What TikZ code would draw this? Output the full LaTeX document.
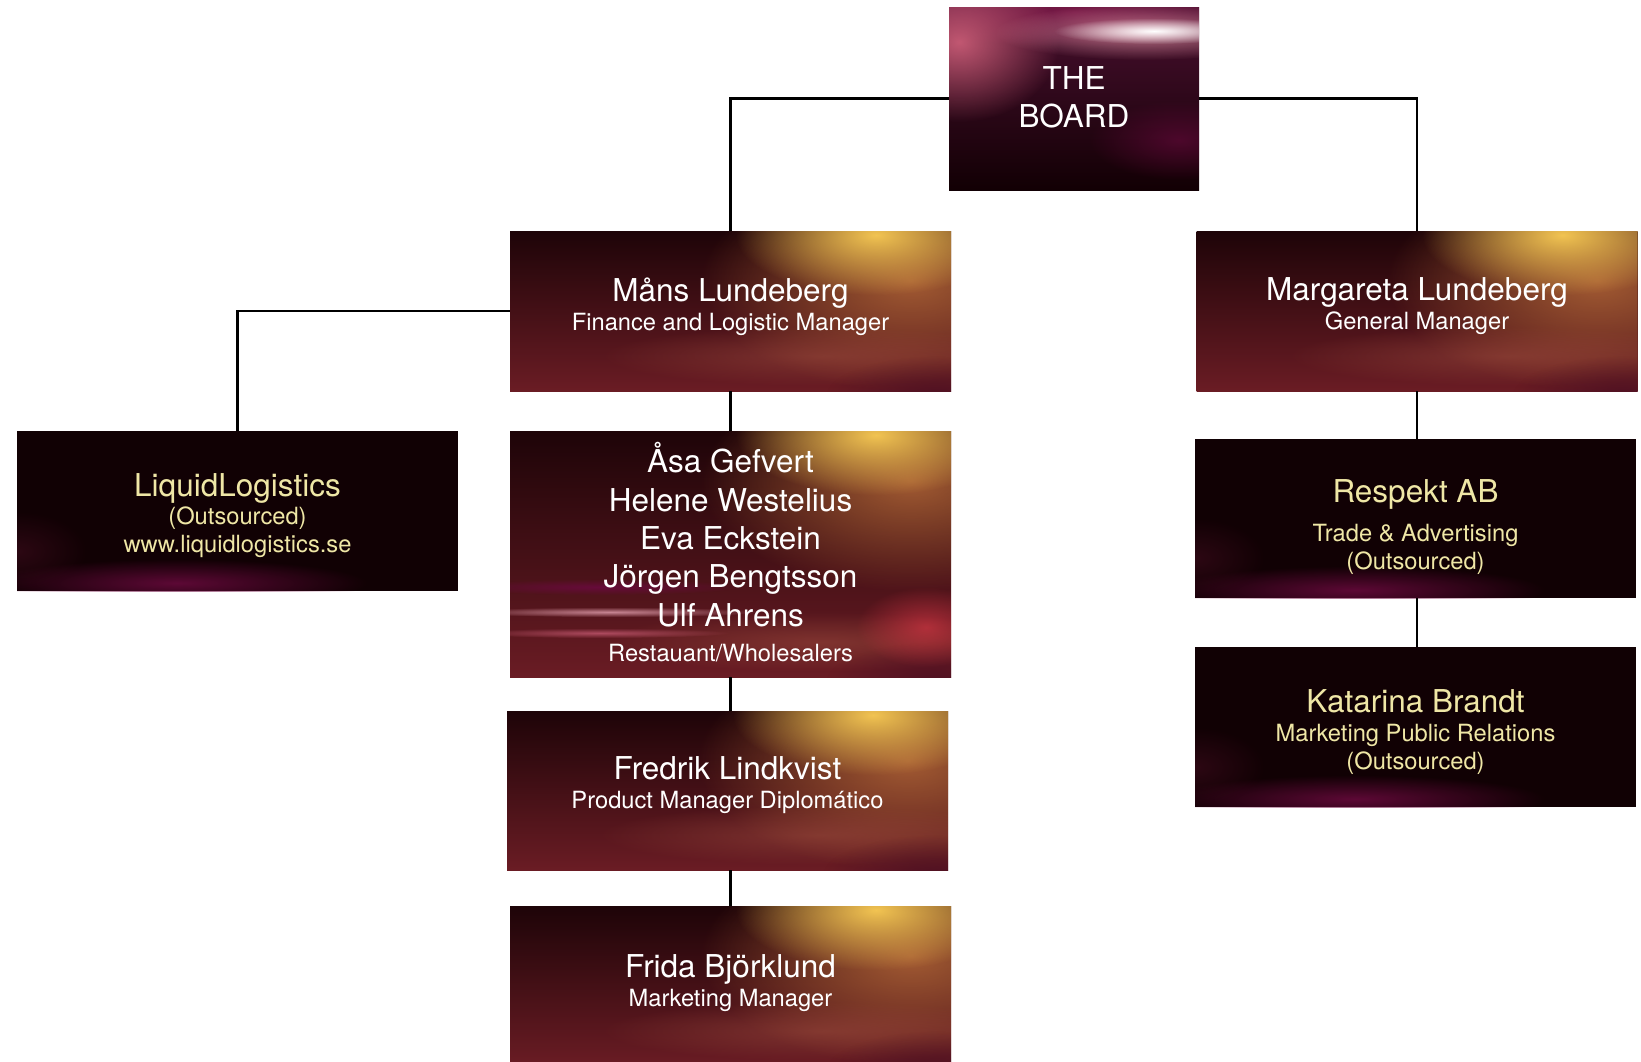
\documentclass[tikz,border=0pt]{standalone}
\usepackage{fontspec}
\setmainfont{TeX Gyre Heros}
\usetikzlibrary{fadings}
\tikzfading[name=glowfade, inner color=transparent!0, outer color=transparent!100]
\definecolor{mdark}{HTML}{1E0408}
\definecolor{mmid}{HTML}{4A1224}
\definecolor{mbot}{HTML}{6A1C24}
\definecolor{goldglow}{HTML}{F2C452}
\definecolor{orng}{HTML}{C0703C}
\definecolor{rust}{HTML}{9A4A3C}
\definecolor{darkplum}{HTML}{480E22}
\definecolor{nearblack}{HTML}{110104}
\definecolor{magglow}{HTML}{6A0A3E}
\definecolor{paleyel}{HTML}{EFE7A6}
\definecolor{pinkglow}{HTML}{D0607A}
\definecolor{boardtop}{HTML}{4A1030}
\definecolor{boardbot}{HTML}{120004}
\newcommand\nmfont{\fontsize{31.5}{38}\selectfont}
\newcommand\sbfont{\fontsize{23.7}{29}\selectfont}
\newcommand\warmbg{%
  \shade[top color=mdark, middle color=mmid, bottom color=mbot]
    (path picture bounding box.south west) rectangle (path picture bounding box.north east);
  \fill[orng, opacity=0.8, path fading=glowfade]
    ([shift={(-40,-50)}]path picture bounding box.north east) ellipse [x radius=210, y radius=110];
  \fill[rust, opacity=0.55, path fading=glowfade, rotate around={20:([shift={(-130,35)}]path picture bounding box.south east)}]
    ([shift={(-130,35)}]path picture bounding box.south east) ellipse [x radius=220, y radius=30];
  \fill[goldglow, path fading=glowfade]
    ([shift={(-75,-4)}]path picture bounding box.north east) ellipse [x radius=140, y radius=60];
  \fill[darkplum, opacity=0.8, path fading=glowfade]
    ([shift={(-15,-5)}]path picture bounding box.south east) ellipse [x radius=110, y radius=40];
}
\begin{document}
\begin{tikzpicture}[x=1pt,y=1pt,
  warmbox/.style={rectangle, inner sep=0pt, minimum width=441, minimum height=160,
    path picture={\warmbg}},
  asabox/.style={rectangle, inner sep=0pt, minimum width=441, minimum height=246,
    path picture={\warmbg
      \fill[pinkglow!60!white, opacity=0.8, path fading=glowfade]
        ([shift={(100,65)}]path picture bounding box.south west) ellipse [x radius=150, y radius=5];
      \fill[pinkglow, opacity=0.7, path fading=glowfade]
        ([shift={(90,44)}]path picture bounding box.south west) ellipse [x radius=130, y radius=5];
      \fill[magglow, opacity=0.9, path fading=glowfade]
        ([shift={(90,90)}]path picture bounding box.south west) ellipse [x radius=140, y radius=8];
      \fill[pinkglow!60!red, opacity=0.6, path fading=glowfade]
        ([shift={(-25,50)}]path picture bounding box.south east) ellipse [x radius=70, y radius=40];
    }},
  darkbox/.style={rectangle, inner sep=0pt, minimum width=441, minimum height=160,
    path picture={
      \fill[nearblack] (path picture bounding box.south west) rectangle (path picture bounding box.north east);
      \fill[magglow, opacity=0.85, path fading=glowfade, rotate around={8:([shift={(160,8)}]path picture bounding box.south west)}]
        ([shift={(160,8)}]path picture bounding box.south west) ellipse [x radius=190, y radius=24];
      \fill[darkplum, opacity=0.5, path fading=glowfade]
        ([shift={(0,40)}]path picture bounding box.south west) ellipse [x radius=70, y radius=40];
    }},
  boardbox/.style={rectangle, inner sep=0pt, minimum width=250, minimum height=183,
    path picture={
      \shade[top color=boardtop, bottom color=boardbot]
        (path picture bounding box.south west) rectangle (path picture bounding box.north east);
      \fill[magglow!80!pinkglow, opacity=0.9, path fading=glowfade]
        ([shift={(0,-5)}]path picture bounding box.north) ellipse [x radius=180, y radius=35];
      \fill[pinkglow, opacity=0.9, path fading=glowfade]
        ([shift={(10,-35)}]path picture bounding box.north west) ellipse [x radius=100, y radius=80];
      \fill[pinkglow!70!white, opacity=0.8, path fading=glowfade]
        ([shift={(-55,-25)}]path picture bounding box.north east) ellipse [x radius=150, y radius=28];
      \fill[white, path fading=glowfade]
        ([shift={(-45,-24)}]path picture bounding box.north east) ellipse [x radius=100, y radius=13];
      \fill[magglow, opacity=0.6, path fading=glowfade]
        ([shift={(-20,50)}]path picture bounding box.south east) ellipse [x radius=90, y radius=40];
    }},
  wtxt/.style={align=center, text=white, inner sep=0pt, font=\sbfont},
  ytxt/.style={align=center, text=paleyel, inner sep=0pt, font=\sbfont},
  conn/.style={draw=black, line width=2.2pt}
]
\useasboundingbox (0,0) rectangle (1641,-1061);

\node[boardbox] (board) at (1074,-98.5) {};
\node[warmbox] (mans) at (730.5,-311) {};
\node[warmbox] (marg) at (1417,-311) {};
\node[darkbox] (liquid) at (237.5,-511) {};
\node[asabox] (asa) at (730.5,-554) {};
\node[warmbox, minimum height=159] (fred) at (727.5,-790.5) {};
\node[warmbox] (frida) at (730.5,-986) {};
\node[darkbox, minimum height=159] (resp) at (1415.5,-518.5) {};
\node[darkbox] (kat) at (1415.5,-727) {};

\draw[conn] (board.west) -| (mans.north);
\draw[conn] (board.east) -| (marg.north);
\draw[conn] (mans.west) -| (liquid.north);
\draw[conn] (mans.south) -- (mans.south |- asa.north);
\draw[conn] (mans.south |- asa.south) -- (mans.south |- fred.north);
\draw[conn] (mans.south |- fred.south) -- (mans.south |- frida.north);
\draw[conn] (marg.south) -- (marg.south |- resp.north);
\draw[conn] (marg.south |- resp.south) -- (marg.south |- kat.north);

\node[wtxt, font=\nmfont] (board-t) at (1074,-97.7) {THE\\BOARD};
\node[wtxt] (mans-t) at (730.5,-306.5) {{\nmfont Måns Lundeberg}\\Finance and Logistic Manager};
\node[wtxt] (marg-t) at (1417,-306.5) {{\nmfont Margareta Lundeberg}\\General Manager};
\node[ytxt, font=\fontsize{23.7}{28}\selectfont] (liquid-t) at (237.5,-516) {{\nmfont LiquidLogistics}\\(Outsourced)\\www.liquidlogistics.se};
\node[wtxt, font=\fontsize{31.5}{38.3}\selectfont] (asa-t) at (730.5,-552) {Åsa Gefvert\\Helene Westelius\\Eva Eckstein\\Jörgen Bengtsson\\Ulf Ahrens\\[-3.3pt]{\sbfont Restauant/Wholesalers}};
\node[wtxt] (fred-t) at (727.5,-784.6) {{\nmfont Fredrik Lindkvist}\\Product Manager Diplomático};
\node[wtxt] (frida-t) at (730.5,-982.7) {{\nmfont Frida Björklund}\\Marketing Manager};
\node[ytxt, font=\fontsize{23.7}{28}\selectfont] (resp-t) at (1415.5,-527.5) {{\nmfont Respekt AB}\\[11pt]Trade \& Advertising\\(Outsourced)};
\node[ytxt, font=\fontsize{23.7}{28.5}\selectfont] (kat-t) at (1415.5,-732.5) {{\nmfont Katarina Brandt}\\Marketing Public Relations\\(Outsourced)};
\end{tikzpicture}
\end{document}
